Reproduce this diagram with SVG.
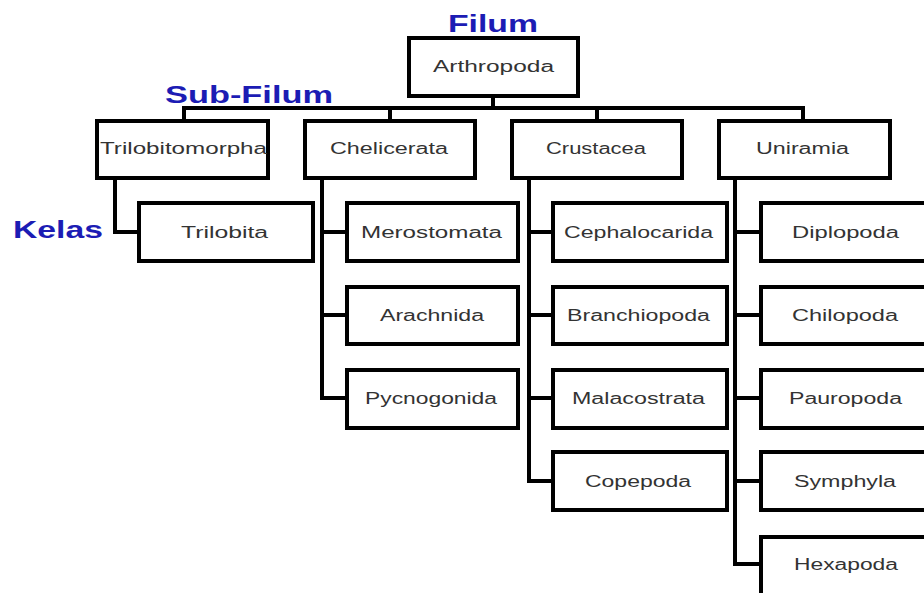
<svg xmlns="http://www.w3.org/2000/svg" width="924" height="593" viewBox="0 0 924 593">
<style>
.box{fill:#fff;stroke:#000;stroke-width:4}
.t{font-family:"Liberation Sans",Arial,sans-serif;font-size:16px;fill:#333;text-anchor:middle}
.lbl{font-family:"Liberation Sans",Arial,sans-serif;font-weight:bold;font-size:24px;fill:#1c1cb4}
.c{fill:none;stroke:#000;stroke-width:4;stroke-linejoin:miter}
</style>
<rect width="924" height="593" fill="#fff"/>
<text class="lbl" x="448" y="32" textLength="90" lengthAdjust="spacingAndGlyphs">Filum</text>
<text class="lbl" x="165" y="103" textLength="168" lengthAdjust="spacingAndGlyphs">Sub-Filum</text>
<text class="lbl" x="13" y="238" textLength="90" lengthAdjust="spacingAndGlyphs">Kelas</text>
<g id="connectors">
<path class="c" d="M493 96V108M184 121V108H803V121M390 108V121M597 108V121"/>
<path class="c" d="M115 178V232H139"/>
<path class="c" d="M322 178V398H347M322 232H347M322 315H347"/>
<path class="c" d="M529 178V481H553M529 232H553M529 315H553M529 398H553"/>
<path class="c" d="M735 178V564H761M735 232H761M735 315H761M735 398H761M735 481H761"/>
</g>
<g id="arthropoda"><rect class="box" x="409" y="38" width="169" height="58"/><text class="t" x="493.5" y="72" textLength="121" lengthAdjust="spacingAndGlyphs">Arthropoda</text></g>
<g id="trilobitomorpha"><rect class="box" x="97" y="121" width="171" height="57"/><text class="t" x="183.5" y="154" textLength="167" lengthAdjust="spacingAndGlyphs">Trilobitomorpha</text></g>
<g id="chelicerata"><rect class="box" x="305" y="121" width="170" height="57"/><text class="t" x="389" y="154" textLength="118" lengthAdjust="spacingAndGlyphs">Chelicerata</text></g>
<g id="crustacea"><rect class="box" x="512" y="121" width="170" height="57"/><text class="t" x="596" y="154" textLength="100" lengthAdjust="spacingAndGlyphs">Crustacea</text></g>
<g id="uniramia"><rect class="box" x="719" y="121" width="171" height="57"/><text class="t" x="802.5" y="154" textLength="93" lengthAdjust="spacingAndGlyphs">Uniramia</text></g>
<g id="trilobita"><rect class="box" x="139" y="203" width="174" height="58"/><text class="t" x="224.5" y="238" textLength="87" lengthAdjust="spacingAndGlyphs">Trilobita</text></g>
<g id="merostomata"><rect class="box" x="347" y="203" width="171" height="58"/><text class="t" x="431.5" y="238" textLength="141" lengthAdjust="spacingAndGlyphs">Merostomata</text></g>
<g id="arachnida"><rect class="box" x="347" y="287" width="171" height="57"/><text class="t" x="432" y="321" textLength="104" lengthAdjust="spacingAndGlyphs">Arachnida</text></g>
<g id="pycnogonida"><rect class="box" x="347" y="370" width="171" height="58"/><text class="t" x="431" y="404" textLength="132" lengthAdjust="spacingAndGlyphs">Pycnogonida</text></g>
<g id="cephalocarida"><rect class="box" x="553" y="203" width="174" height="58"/><text class="t" x="638.5" y="238" textLength="149" lengthAdjust="spacingAndGlyphs">Cephalocarida</text></g>
<g id="branchiopoda"><rect class="box" x="553" y="287" width="174" height="57"/><text class="t" x="638.5" y="321" textLength="143" lengthAdjust="spacingAndGlyphs">Branchiopoda</text></g>
<g id="malacostrata"><rect class="box" x="553" y="370" width="174" height="58"/><text class="t" x="638.5" y="404" textLength="133" lengthAdjust="spacingAndGlyphs">Malacostrata</text></g>
<g id="copepoda"><rect class="box" x="553" y="452" width="174" height="58"/><text class="t" x="638" y="487" textLength="106" lengthAdjust="spacingAndGlyphs">Copepoda</text></g>
<g id="diplopoda"><rect class="box" x="761" y="203" width="172" height="58"/><text class="t" x="845.5" y="238" textLength="107" lengthAdjust="spacingAndGlyphs">Diplopoda</text></g>
<g id="chilopoda"><rect class="box" x="761" y="287" width="172" height="57"/><text class="t" x="845" y="321" textLength="106" lengthAdjust="spacingAndGlyphs">Chilopoda</text></g>
<g id="pauropoda"><rect class="box" x="761" y="370" width="172" height="58"/><text class="t" x="845.5" y="404" textLength="113" lengthAdjust="spacingAndGlyphs">Pauropoda</text></g>
<g id="symphyla"><rect class="box" x="761" y="452" width="172" height="58"/><text class="t" x="845" y="487" textLength="102" lengthAdjust="spacingAndGlyphs">Symphyla</text></g>
<g id="hexapoda"><rect class="box" x="761" y="537" width="172" height="60"/><text class="t" x="846" y="570" textLength="104" lengthAdjust="spacingAndGlyphs">Hexapoda</text></g>
</svg>
